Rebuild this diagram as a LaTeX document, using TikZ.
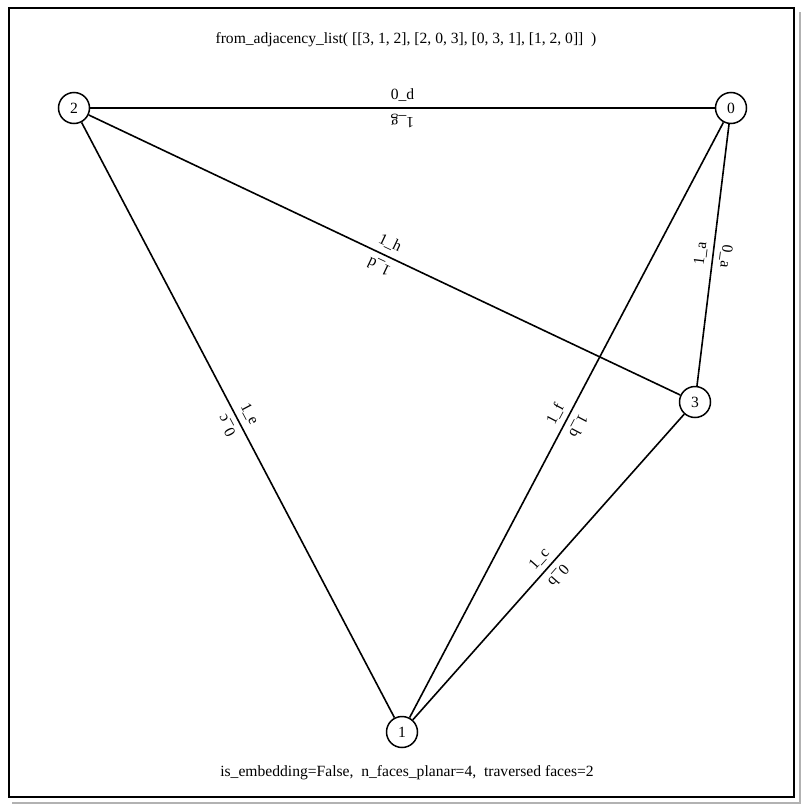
\documentclass[tikz,border=0pt]{standalone}
\usepackage{fontspec}
\setmainfont{Liberation Serif}
\usetikzlibrary{positioning}

\begin{document}
\begin{tikzpicture}[x=1pt,y=-1pt,
	vertex/.style={circle,draw,line width=1.5pt,minimum size=31pt,inner sep=0pt,fill=white},
	dart/.style={sloped,above=2.5pt,allow upside down},
	link/.style={line width=1.6pt},
	every node/.append style={font=\fontsize{15.6}{18}\selectfont}]
	\useasboundingbox (0,0) rectangle (802,806);
	\draw[gray!60,line width=1.5pt] (800,12) -- (800,803) -- (12,803);
	\draw[line width=2pt] (9,8) rectangle (794,797);
	\node (title) at (406,40) {from\_adjacency\_list(\ [[3, 1, 2], [2, 0, 3], [0, 3, 1], [1, 2, 0]]\ \ )};
	\node (info) at (407,773) {is\_embedding=False,\ \ n\_faces\_planar=4,\ \ traversed faces=2};
	\node[vertex] (n0) at (731,108) {0};
	\node[vertex] (n1) at (402,732) {1};
	\node[vertex] (n2) at (74,108) {2};
	\node[vertex] (n3) at (695,402) {3};
	\draw[link] (n2) -- node[dart] {0\_d} (n0);
	\path (n0) -- node[dart] {1\_g} (n2);
	\draw[link] (n2) -- node[dart] {1\_h} (n3);
	\path (n3) -- node[dart] {1\_d} (n2);
	\draw[link] (n0) -- node[dart] {0\_a} (n3);
	\path (n3) -- node[dart] {1\_a} (n0);
	\draw[link] (n2) -- node[dart] {1\_e} (n1);
	\path (n1) -- node[dart] {0\_c} (n2);
	\draw[link] (n0) -- node[dart] {1\_b} (n1);
	\path (n1) -- node[dart] {1\_f} (n0);
	\draw[link] (n3) -- node[dart] {0\_b} (n1);
	\path (n1) -- node[dart] {1\_c} (n3);
\end{tikzpicture}
\end{document}
